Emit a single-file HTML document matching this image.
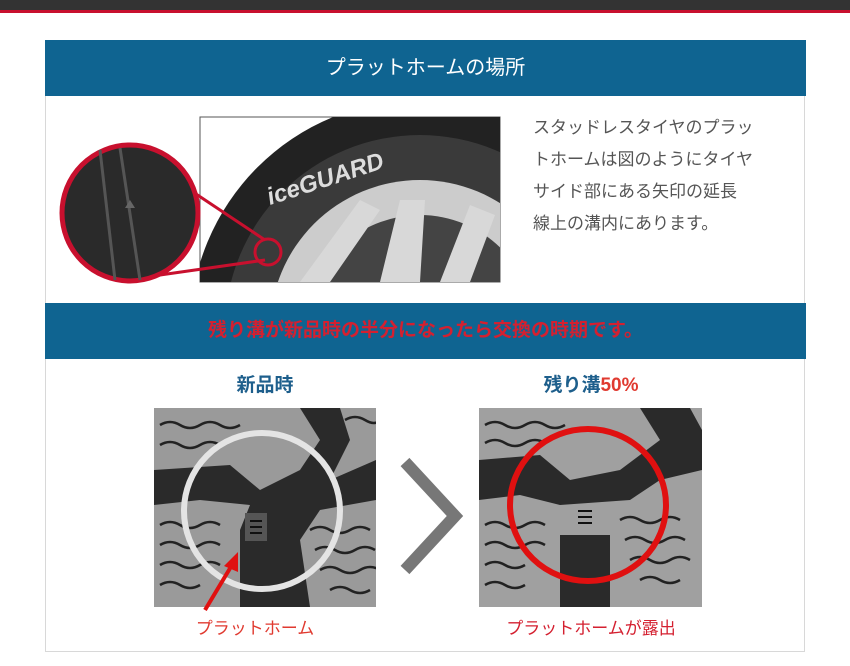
<!DOCTYPE html>
<html><head><meta charset="utf-8"><style>
body{margin:0;width:850px;height:666px;background:#fff;overflow:hidden;font-family:"Liberation Sans","Noto Sans CJK JP",sans-serif;position:relative}
.abs{position:absolute}
</style></head><body>
<div class="abs" style="left:0;top:0;width:850px;height:10px;background:#333"></div>
<div class="abs" style="left:0;top:10px;width:850px;height:3px;background:#c8102e"></div>
<div class="abs" style="left:45px;top:40px;width:760px;height:612px;border:1px solid #d8d8d8;box-sizing:border-box"></div>
<div class="abs" style="left:45px;top:40px;width:761px;height:56px;background:#0f6491;color:#fff;font-size:20px;line-height:56px;text-align:center">プラットホームの場所</div>
<div class="abs" style="left:45px;top:303px;width:761px;height:56px;background:#0f6491;color:#d42030;font-size:19px;line-height:56px;text-align:center;font-weight:bold">残り溝が新品時の半分になったら交換の時期です。</div>
<div class="abs" style="left:533px;top:112px;width:240px;font-size:17px;line-height:32px;color:#555;white-space:nowrap">スタッドレスタイヤのプラッ<br>トホームは図のようにタイヤ<br>サイド部にある矢印の延長<br>線上の溝内にあります。</div>
<div class="abs" style="left:155px;top:370px;width:220px;text-align:center;font-size:19px;font-weight:bold;color:#1e5f8c">新品時</div>
<div class="abs" style="left:480px;top:370px;width:222px;text-align:center;font-size:19px;font-weight:bold;color:#1e5f8c">残り溝<span style="color:#e03a30">50%</span></div>
<div class="abs" style="left:155px;top:614px;width:200px;text-align:center;font-size:17px;color:#e03a30">プラットホーム</div>
<div class="abs" style="left:480px;top:614px;width:222px;text-align:center;font-size:17px;color:#d42030">プラットホームが露出</div>
<svg class="abs" style="left:0;top:0" width="850" height="666">
<defs>
<clipPath id="c1"><rect x="154" y="408" width="222" height="199"/></clipPath>
<clipPath id="c2"><rect x="479" y="408" width="223" height="199"/></clipPath>
<clipPath id="ct"><rect x="200" y="117" width="300" height="165"/></clipPath>
</defs>
<rect x="200" y="117" width="300" height="165" fill="#fff" stroke="#555"/>
<g clip-path="url(#ct)">
<circle cx="420" cy="330" r="230" fill="#222"/>
<circle cx="420" cy="330" r="195" fill="#3a3a3a"/>
<circle cx="420" cy="330" r="150" fill="#ccc"/>
<circle cx="420" cy="330" r="115" fill="#444"/>
<path d="M300 282 L360 200 L380 210 L330 282Z M380 282 L400 200 L425 200 L420 282Z M440 282 L470 205 L495 215 L470 282Z" fill="#d8d8d8"/>
<text x="270" y="205" fill="#ddd" font-size="24" font-weight="bold" font-style="italic" transform="rotate(-18 270 205)">iceGUARD</text>
</g>
<line x1="190" y1="190" x2="265" y2="240" stroke="#c8102e" stroke-width="3"/>
<line x1="160" y1="275" x2="265" y2="260" stroke="#c8102e" stroke-width="3"/>
<circle cx="268" cy="252" r="13" fill="none" stroke="#c8102e" stroke-width="3"/>
<circle cx="130" cy="213" r="68" fill="#2a2a2a" stroke="#c8102e" stroke-width="5"/>
<path d="M100 150 L115 280 M120 148 L140 280" stroke="#555" stroke-width="3"/>
<path d="M125 208 l5 -8 l5 8 z" fill="#666"/>
<g clip-path="url(#c1)">
<rect x="154" y="408" width="222" height="199" fill="#9a9a9a"/>
<path d="M154 470 L230 465 L260 490 L300 470 L320 440 L300 408 L340 408 L350 440 L330 480 L376 460 L376 500 L320 510 L300 540 L310 607 L240 607 L240 530 L250 505 L200 500 L154 505Z" fill="#2a2a2a"/>
<g stroke="#222" stroke-width="2.5" fill="none">
<path d="M160 425 q10 -6 20 0 t20 0 t20 0 t20 0"/><path d="M160 445 q10 -6 20 0 t20 0 t20 0"/>
<path d="M160 525 q10 -6 20 0 t20 0 t20 0"/><path d="M160 545 q10 -6 20 0 t20 0 t20 0"/><path d="M160 565 q10 -6 20 0 t20 0 t20 0"/><path d="M160 585 q10 -6 20 0 t20 0"/>
<path d="M310 530 q10 -6 20 0 t20 0 t20 0"/><path d="M315 550 q10 -6 20 0 t20 0 t20 0"/><path d="M320 570 q10 -6 20 0 t20 0 t20 0"/><path d="M330 590 q10 -6 20 0 t20 0"/>
<path d="M345 420 q10 -6 20 0 t15 0"/>
</g>
<rect x="245" y="513" width="22" height="28" fill="#555"/>
<path d="M250 521 h12 M250 527 h12 M250 533 h12" stroke="#111" stroke-width="2"/>
</g>
<circle cx="262" cy="511" r="78" fill="none" stroke="#e4e4e4" stroke-width="6"/>
<path d="M205 610 L232 565" stroke="#e01010" stroke-width="4"/>
<path d="M238 552 L224 566 L238 572Z" fill="#e01010"/>
<polyline points="405,462 455,516 405,570" fill="none" stroke="#777" stroke-width="12"/>
<g clip-path="url(#c2)">
<rect x="479" y="408" width="223" height="199" fill="#a0a0a0"/>
<path d="M479 460 L540 455 L570 480 L620 470 L660 440 L640 408 L690 408 L702 430 L702 470 L660 480 L630 500 L560 505 L520 495 L479 500Z" fill="#2a2a2a"/>
<rect x="560" y="535" width="50" height="72" fill="#2a2a2a"/>
<g stroke="#222" stroke-width="2.5" fill="none">
<path d="M485 425 q10 -6 20 0 t20 0 t20 0 t20 0"/><path d="M485 443 q10 -6 20 0 t20 0 t20 0"/>
<path d="M485 525 q10 -6 20 0 t20 0 t20 0"/><path d="M485 545 q10 -6 20 0 t20 0 t20 0"/><path d="M485 565 q10 -6 20 0 t20 0"/><path d="M485 585 q10 -6 20 0 t20 0"/>
<path d="M620 520 q10 -6 20 0 t20 0 t20 0"/><path d="M625 540 q10 -6 20 0 t20 0 t20 0"/><path d="M630 560 q10 -6 20 0 t20 0 t20 0"/><path d="M640 580 q10 -6 20 0 t20 0"/>
</g>
<path d="M578 511 h14 M578 517 h14 M578 523 h14" stroke="#111" stroke-width="2"/>
</g>
<ellipse cx="588" cy="505" rx="78" ry="76" fill="none" stroke="#e01010" stroke-width="6"/>
</svg>
</body></html>
